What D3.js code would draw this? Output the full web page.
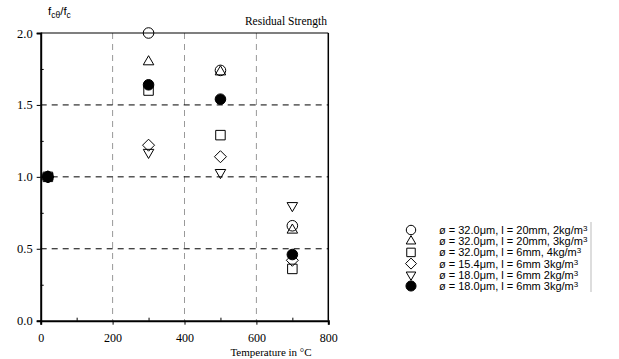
<!DOCTYPE html>
<html lang="en">
<head>
  <meta charset="UTF-8" />
  <title>Residual Strength</title>
  <script src="https://d3js.org/d3.v7.min.js"></script>
  <style>
    body { margin: 0; background: #fff; }
  </style>
</head>
<body>
  <svg width="619" height="359"></svg>
  <script>
    const temps = [20, 300, 500, 700];
    const circleOpen = [1.0, 2.0, 1.74, 0.66];
    const triangleUp = [1.0, 1.80, 1.73, 0.63];
    const squareOpen = [1.0, 1.60, 1.29, 0.36];
    const diamondOpen = [1.0, 1.22, 1.14, 0.42];
    const triangleDown = [1.0, 1.17, 1.03, 0.80];
    const circleFilled = [1.0, 1.64, 1.54, 0.46];
    const seriesLabels = [
      "ø = 32.0μm, l = 20mm, 2kg/m",
      "ø = 32.0μm, l = 20mm, 3kg/m",
      "ø = 32.0μm, l = 6mm, 4kg/m",
      "ø = 15.4μm, l = 6mm 3kg/m",
      "ø = 18.0μm, l = 6mm 2kg/m",
      "ø = 18.0μm, l = 6mm 3kg/m"
    ];
    const xTicks = [0, 200, 400, 600, 800];
    const yTicks = [0.0, 0.5, 1.0, 1.5, 2.0];

    const SERIF = "Liberation Serif, Times New Roman, serif";
    const SANS = "Liberation Sans, Arial, sans-serif";

    const margin = { top: 33, left: 40.7 },
          width = 328.3 - 40.7,
          height = 320.7 - 33;

    const svg = d3.select("svg");
    const g = svg.append("g").attr("transform", `translate(${margin.left},${margin.top})`);

    const x = d3.scaleLinear().domain([0, 800]).range([0, width]);
    const y = d3.scaleLinear().domain([0, 2]).range([height, 0]);

    // grid
    g.selectAll(".vgrid").data([200, 400, 600]).enter().append("line")
      .attr("x1", d => x(d)).attr("x2", d => x(d))
      .attr("y1", 0).attr("y2", height)
      .attr("stroke", "#999").attr("stroke-width", 1)
      .attr("stroke-dasharray", "6,5");
    g.selectAll(".hgrid").data([0.5, 1.0, 1.5]).enter().append("line")
      .attr("x1", 0).attr("x2", width)
      .attr("y1", d => y(d)).attr("y2", d => y(d))
      .attr("stroke", "#000").attr("stroke-width", 1)
      .attr("stroke-dasharray", "6,5");

    // frame
    g.append("line").attr("x1", 0).attr("x2", width).attr("y1", 0).attr("y2", 0)
      .attr("stroke", "#000").attr("stroke-width", 1.2);
    g.append("line").attr("x1", width).attr("x2", width).attr("y1", 0).attr("y2", height)
      .attr("stroke", "#000").attr("stroke-width", 1.5);

    // axes
    const xAxis = g.append("g").attr("transform", `translate(0,${height})`)
      .call(d3.axisBottom(x).tickValues(xTicks).tickSize(4).tickFormat(d3.format("d")))
      .attr("font-family", SERIF).attr("font-size", 12);
    xAxis.select(".domain").attr("stroke-width", 2);
    xAxis.selectAll("text").attr("dy", "1.2em");
    g.append("g").attr("transform", `translate(0,${height})`)
      .call(d3.axisTop(x).tickValues([100, 300, 500, 700]).tickSize(3).tickFormat(""))
      .select(".domain").remove();

    const yAxis = g.append("g")
      .call(d3.axisLeft(y).tickValues(yTicks).tickSize(4).tickFormat(d3.format(".1f")))
      .attr("font-family", SERIF).attr("font-size", 12.5);
    yAxis.select(".domain").attr("stroke-width", 2);
    yAxis.selectAll("text").attr("x", -8);
    g.append("g")
      .call(d3.axisRight(y).tickValues([0.25, 0.75, 1.25, 1.75]).tickSize(3).tickFormat(""))
      .select(".domain").remove();
    svg.selectAll(".domain").attr("stroke", "#000");

    // markers
    const sym = (type, size) => d3.symbol().type(type).size(size)();
    const diamondPath = "M0,-6L6,0L0,6L-6,0Z";
    const markers = [
      { values: circleOpen, path: sym(d3.symbolCircle, 88), fill: "none", rot: 0 },
      { values: triangleUp, path: sym(d3.symbolTriangle, 48), fill: "none", rot: 0 },
      { values: squareOpen, path: sym(d3.symbolSquare, 90), fill: "none", rot: 0 },
      { values: diamondOpen, path: diamondPath, fill: "none", rot: 0 },
      { values: triangleDown, path: sym(d3.symbolTriangle, 48), fill: "none", rot: 180 },
      { values: circleFilled, path: sym(d3.symbolCircle, 88), fill: "#000", rot: 0 }
    ];

    markers.forEach(m => {
      g.selectAll(null).data(temps.map((t, i) => [t, m.values[i]])).enter()
        .append("path")
        .attr("d", m.path)
        .attr("transform", d => `translate(${x(d[0])},${y(d[1])}) rotate(${m.rot})`)
        .attr("fill", m.fill)
        .attr("stroke", "#000").attr("stroke-width", 1);
    });

    // labels
    const yl = svg.append("text").attr("x", 48).attr("y", 15)
      .attr("font-family", SANS).attr("font-size", 11.5);
    yl.append("tspan").text("f");
    yl.append("tspan").attr("dy", 3).attr("font-size", 8.5).text("cθ");
    yl.append("tspan").attr("dy", -3).text("/f");
    yl.append("tspan").attr("dy", 3).attr("font-size", 8.5).text("c");

    svg.append("text").attr("x", 327).attr("y", 25)
      .attr("text-anchor", "end").attr("font-family", SERIF).attr("font-size", 11.5)
      .text("Residual Strength");
    svg.append("text").attr("x", 271).attr("y", 356)
      .attr("text-anchor", "middle").attr("font-family", SERIF).attr("font-size", 11)
      .text("Temperature in °C");

    // legend
    const legend = svg.append("g").attr("transform", "translate(411,230)");
    const legendMarkers = [
      sym(d3.symbolCircle, 70), sym(d3.symbolTriangle, 40), sym(d3.symbolSquare, 72),
      "M0,-5.5L5.5,0L0,5.5L-5.5,0Z", sym(d3.symbolTriangle, 40), sym(d3.symbolCircle, 80)
    ];
    markers.forEach((m, i) => {
      const row = legend.append("g").attr("transform", `translate(0,${i * 11.2})`);
      row.append("path").attr("d", legendMarkers[i])
        .attr("transform", `rotate(${m.rot})`)
        .attr("fill", m.fill).attr("stroke", "#000").attr("stroke-width", 1);
      const t = row.append("text").attr("x", 28).attr("y", 4)
        .attr("font-family", SANS).attr("font-size", 11).text(seriesLabels[i]);
      t.append("tspan").attr("dy", -3).attr("font-size", 8).text("3");
    });
    legend.append("line").attr("x1", 180).attr("x2", 180).attr("y1", -8).attr("y2", 62)
      .attr("stroke", "#bbb").attr("stroke-width", 1);
  </script>
</body>
</html>
